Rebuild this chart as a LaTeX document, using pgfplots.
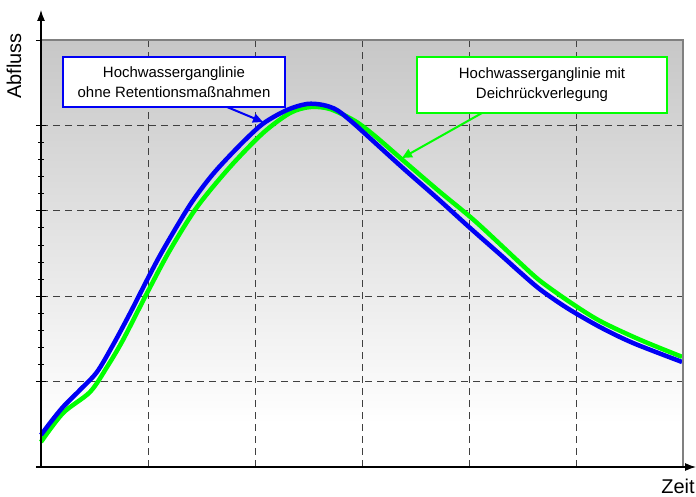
\documentclass[border=0pt]{standalone}
\usepackage{pgfplots}
\pgfplotsset{compat=1.18}
\usepackage{fontspec}
\setmainfont{Liberation Sans}
\usetikzlibrary{arrows.meta}

\definecolor{hwblue}{RGB}{0,0,245}
\definecolor{hwgreen}{RGB}{0,255,0}
% path spans 25bp..75bp of the shading
\pgfdeclareverticalshading{bgshade}{100bp}{color(0bp)=(white); color(30bp)=(white); color(75bp)=(black!22); color(100bp)=(black!22)}

\begin{document}
\begin{tikzpicture}
\begin{axis}[
  at={(0,0)}, anchor=south west,
  scale only axis, width=642bp, height=427bp,
  xmin=0, xmax=6, ymin=0, ymax=5,
  axis line style={draw=none},
  axis background/.style={shading=bgshade},
  xtick={1,2,3,4,5}, xticklabels={}, xtick style={draw=none},
  ytick={1,2,3,4}, yticklabels={}, ytick pos=left,
  extra y ticks={0,5}, extra y tick labels={}, extra y tick style={grid=none},
  minor y tick num=4,
  tick align=center, major tick length=10bp, minor tick length=5bp,
  ytick style={black, line width=0.8bp},
  xmajorgrids, ymajorgrids,
  grid style={black!75, line width=0.9bp, dash pattern=on 7bp off 5bp},
  clip=false,
]
\addplot[hwgreen, line width=4.5bp, smooth, tension=0.5] coordinates {
  (0,0.293)(0.206,0.632)(0.458,0.878)(0.617,1.171)(0.766,1.487)(0.991,2.037)
  (1.206,2.541)(1.458,3.044)(1.766,3.513)(2.075,3.911)(2.327,4.145)(2.514,4.215)
  (2.701,4.192)(2.935,4.051)(3.121,3.876)(3.402,3.571)(3.729,3.220)(4.056,2.880)
  (4.477,2.389)(4.664,2.180)(4.944,1.930)(5.224,1.710)(5.598,1.490)(5.991,1.290)
};
\addplot[hwblue, line width=4.5bp, smooth, tension=0.5] coordinates {
  (0,0.375)(0.084,0.515)(0.206,0.703)(0.364,0.902)(0.523,1.112)(0.673,1.429)
  (0.832,1.800)(0.991,2.190)(1.140,2.540)(1.393,3.070)(1.607,3.430)(1.860,3.770)
  (2.075,4.020)(2.299,4.180)(2.486,4.251)(2.636,4.239)(2.766,4.180)(2.916,4.030)
  (3.075,3.850)(3.383,3.500)(3.701,3.150)(4.009,2.800)(4.318,2.459)(4.477,2.280)
  (4.664,2.080)(4.916,1.862)(5.224,1.639)(5.533,1.452)(5.991,1.230)
};
\draw[black!50, line width=1.5bp] (rel axis cs:0,1) -- (rel axis cs:1,1) -- (rel axis cs:1,0);
\end{axis}

% axes with arrows
\draw[line width=1.2bp, -{Latex[length=11bp,width=8bp]}] (0,0) -- (0bp,457bp);
\draw[line width=1.2bp, -{Latex[length=11bp,width=8bp]}] (-5bp,0) -- (655bp,0bp);
\node[rotate=90, inner sep=0pt, font=\fontsize{20}{24}\selectfont] at (-27bp,401bp) {Abfluss};
\node[inner sep=0pt, font=\fontsize{20}{24}\selectfont] at (637bp,-19bp) {Zeit};

% callouts
\draw[hwblue, line width=2bp, -{Triangle[length=10bp,width=9bp]}] (186bp,360bp) -- (222bp,345bp);
\node[draw=hwblue, line width=1.5bp, fill=white, minimum width=222bp, minimum height=50bp,
      inner sep=0pt, align=center, font=\fontsize{15}{20}\selectfont] at (133bp,385bp)
      {Hochwasserganglinie\\ohne Retentionsmaßnahmen};
\draw[hwgreen, line width=2bp, -{Triangle[length=10bp,width=9bp]}] (441bp,354bp) -- (361bp,309bp);
\node[draw=hwgreen, line width=1.5bp, fill=white, minimum width=250bp, minimum height=56bp,
      inner sep=0pt, align=center, font=\fontsize{15}{20}\selectfont] at (501bp,382bp)
      {Hochwasserganglinie mit\\Deichrückverlegung};

\pgfresetboundingbox
\path (-41bp,-30bp) rectangle (655bp,467bp);
\end{tikzpicture}
\end{document}
